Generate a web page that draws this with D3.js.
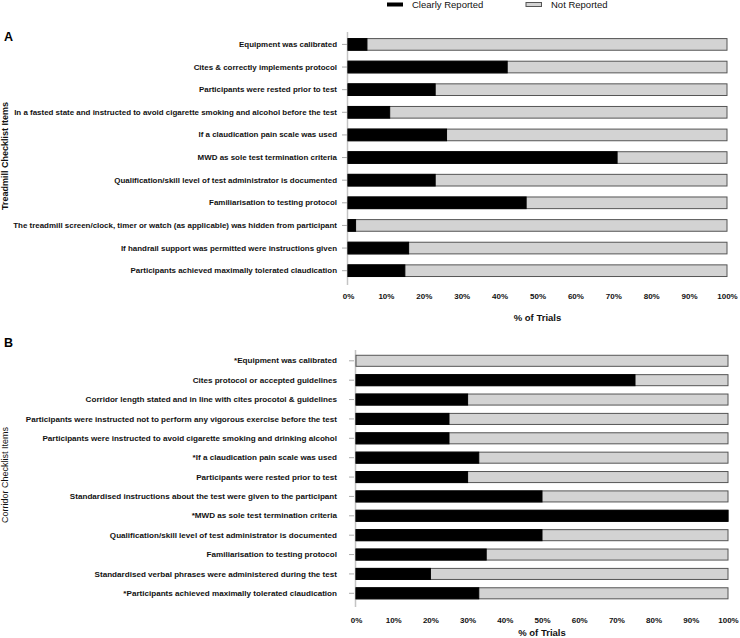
<!DOCTYPE html>
<html><head><meta charset="utf-8">
<script src="https://cdn.jsdelivr.net/npm/d3@7"></script>
<style>body{margin:0;background:#fff}svg{display:block}text{font-family:"Liberation Sans",Arial,sans-serif}</style>
</head><body>
<svg id="c" width="740" height="638"></svg>
<script>
const seriesNames = ["Clearly Reported", "Not Reported"];
const xTicks = [0,10,20,30,40,50,60,70,80,90,100];

const treadmillItems = [
  "Equipment was calibrated",
  "Cites & correctly implements protocol",
  "Participants were rested prior to test",
  "In a fasted state and instructed to avoid cigarette smoking and alcohol before the test",
  "If a claudication pain scale was used",
  "MWD as sole test termination criteria",
  "Qualification/skill level of test administrator is documented",
  "Familiarisation to testing protocol",
  "The treadmill screen/clock, timer or watch (as applicable) was hidden from participant",
  "If handrail support was permitted were instructions given",
  "Participants achieved maximally tolerated claudication"
];
const treadmillReported = [5, 42, 23, 11, 26, 71, 23, 47, 2, 16, 15];

const corridorItems = [
  "*Equipment was calibrated",
  "Cites protocol or accepted guidelines",
  "Corridor length stated and in line with cites procotol & guidelines",
  "Participants were instructed not to perform any vigorous exercise before the test",
  "Participants were instructed to avoid cigarette smoking and drinking alcohol",
  "*If a claudication pain scale was used",
  "Participants were rested prior to test",
  "Standardised instructions about the test were given to the participant",
  "*MWD as sole test termination criteria",
  "Qualification/skill level of test administrator is documented",
  "Familiarisation to testing protocol",
  "Standardised verbal phrases were administered during the test",
  "*Participants achieved maximally tolerated claudication"
];
const corridorReported = [0, 75, 30, 25, 25, 33, 30, 50, 100, 50, 35, 20, 33];

const svg = d3.select("#c");
const BLACK = "#000", GREY = "#d3d3d3", EDGE = "#555";

// legend
const leg = svg.append("g");
leg.append("rect").attr("x",387).attr("y",2.5).attr("width",16).attr("height",4).attr("fill",BLACK);
leg.append("text").attr("x",412).attr("y",8).attr("font-size",9.5).attr("fill","#111").text(seriesNames[0]);
leg.append("rect").attr("x",526).attr("y",2.5).attr("width",15.5).attr("height",4).attr("fill",GREY).attr("stroke",EDGE).attr("stroke-width",1);
leg.append("text").attr("x",551).attr("y",8).attr("font-size",9.5).attr("fill","#111").text(seriesNames[1]);

function panel(o){
  const g = svg.append("g");
  const x = d3.scaleLinear().domain([0,100]).range([o.x0,o.x1]);
  const y = d3.scaleBand().domain(o.items).range([o.yTop,o.yBot]).paddingInner(o.pad).paddingOuter(o.padOuter);
  g.append("text").attr("x",4).attr("y",o.letterY).attr("font-size",12.5).attr("font-weight","bold").text(o.letter);
  const ya = g.append("g").attr("transform",`translate(${o.x0 - o.tickOff},0)`)
    .call(d3.axisLeft(y).tickSize(5).tickPadding(o.labelPad));
  ya.select(".domain").remove();
  ya.selectAll(".tick line").attr("stroke","#aaa");
  ya.selectAll(".tick text").attr("font-size",o.labelSize).attr("font-weight","bold").attr("fill","#111")
    .attr("font-family",'"Liberation Sans",Arial,sans-serif');
  g.append("line").attr("x1",o.x0-0.5).attr("x2",o.x0-0.5).attr("y1",o.axTop).attr("y2",o.axBot)
    .attr("stroke","#c4c4c4").attr("stroke-width",1.5);
  const rows = g.selectAll("g.row").data(o.items.map((d,i)=>({item:d,v:o.values[i]}))).join("g");
  rows.append("rect").attr("x",x(0)).attr("y",d=>y(d.item)).attr("width",x(100)-x(0)).attr("height",y.bandwidth())
    .attr("fill",GREY).attr("stroke",EDGE).attr("stroke-width",1);
  rows.append("rect").attr("x",x(0)).attr("y",d=>y(d.item)).attr("width",d=>x(d.v)-x(0)).attr("height",y.bandwidth())
    .attr("fill",BLACK).attr("stroke",d=>d.v>0?BLACK:"none").attr("stroke-width",1);
  const xa = g.append("g").attr("transform",`translate(0,${o.axBot})`)
    .call(d3.axisBottom(x).tickValues(xTicks).tickFormat(d=>d+"%").tickSize(0).tickPadding(o.tickPad));
  xa.select(".domain").remove();
  xa.selectAll(".tick text").attr("font-size",8).attr("font-weight","bold").attr("fill","#111")
    .attr("font-family",'"Liberation Sans",Arial,sans-serif');
  g.append("text").attr("x",(o.x0+o.x1)/2).attr("y",o.titleY).attr("text-anchor","middle")
    .attr("font-size",9.5).attr("font-weight","bold").attr("fill","#111").text("% of Trials");
  g.append("text").attr("transform",`translate(${o.yTitleX},${o.yTitleY}) rotate(-90)`).attr("text-anchor","middle")
    .attr("font-size",9).attr("font-weight",o.yTitleBold?"bold":"normal").attr("fill","#111").text(o.yTitle);
}

panel({letter:"A", letterY:41, items:treadmillItems, values:treadmillReported,
  x0:348, x1:727, yTop:32.7, yBot:282.4, pad:0.485, padOuter:0.26, axTop:32, axBot:285,
  tickOff:1, labelPad:5, labelSize:7.95,
  tickPad:8, titleY:321, yTitle:"Treadmill Checklist Items", yTitleX:8, yTitleY:156, yTitleBold:true});
panel({letter:"B", letterY:347, items:corridorItems, values:corridorReported,
  x0:356, x1:728, yTop:351.4, yBot:602.7, pad:0.43, padOuter:0.2, axTop:350, axBot:607,
  tickOff:2, labelPad:12, labelSize:8.1,
  tickPad:10, titleY:636, yTitle:"Corridor Checklist Items", yTitleX:8, yTitleY:475, yTitleBold:false});
</script>
</body></html>
